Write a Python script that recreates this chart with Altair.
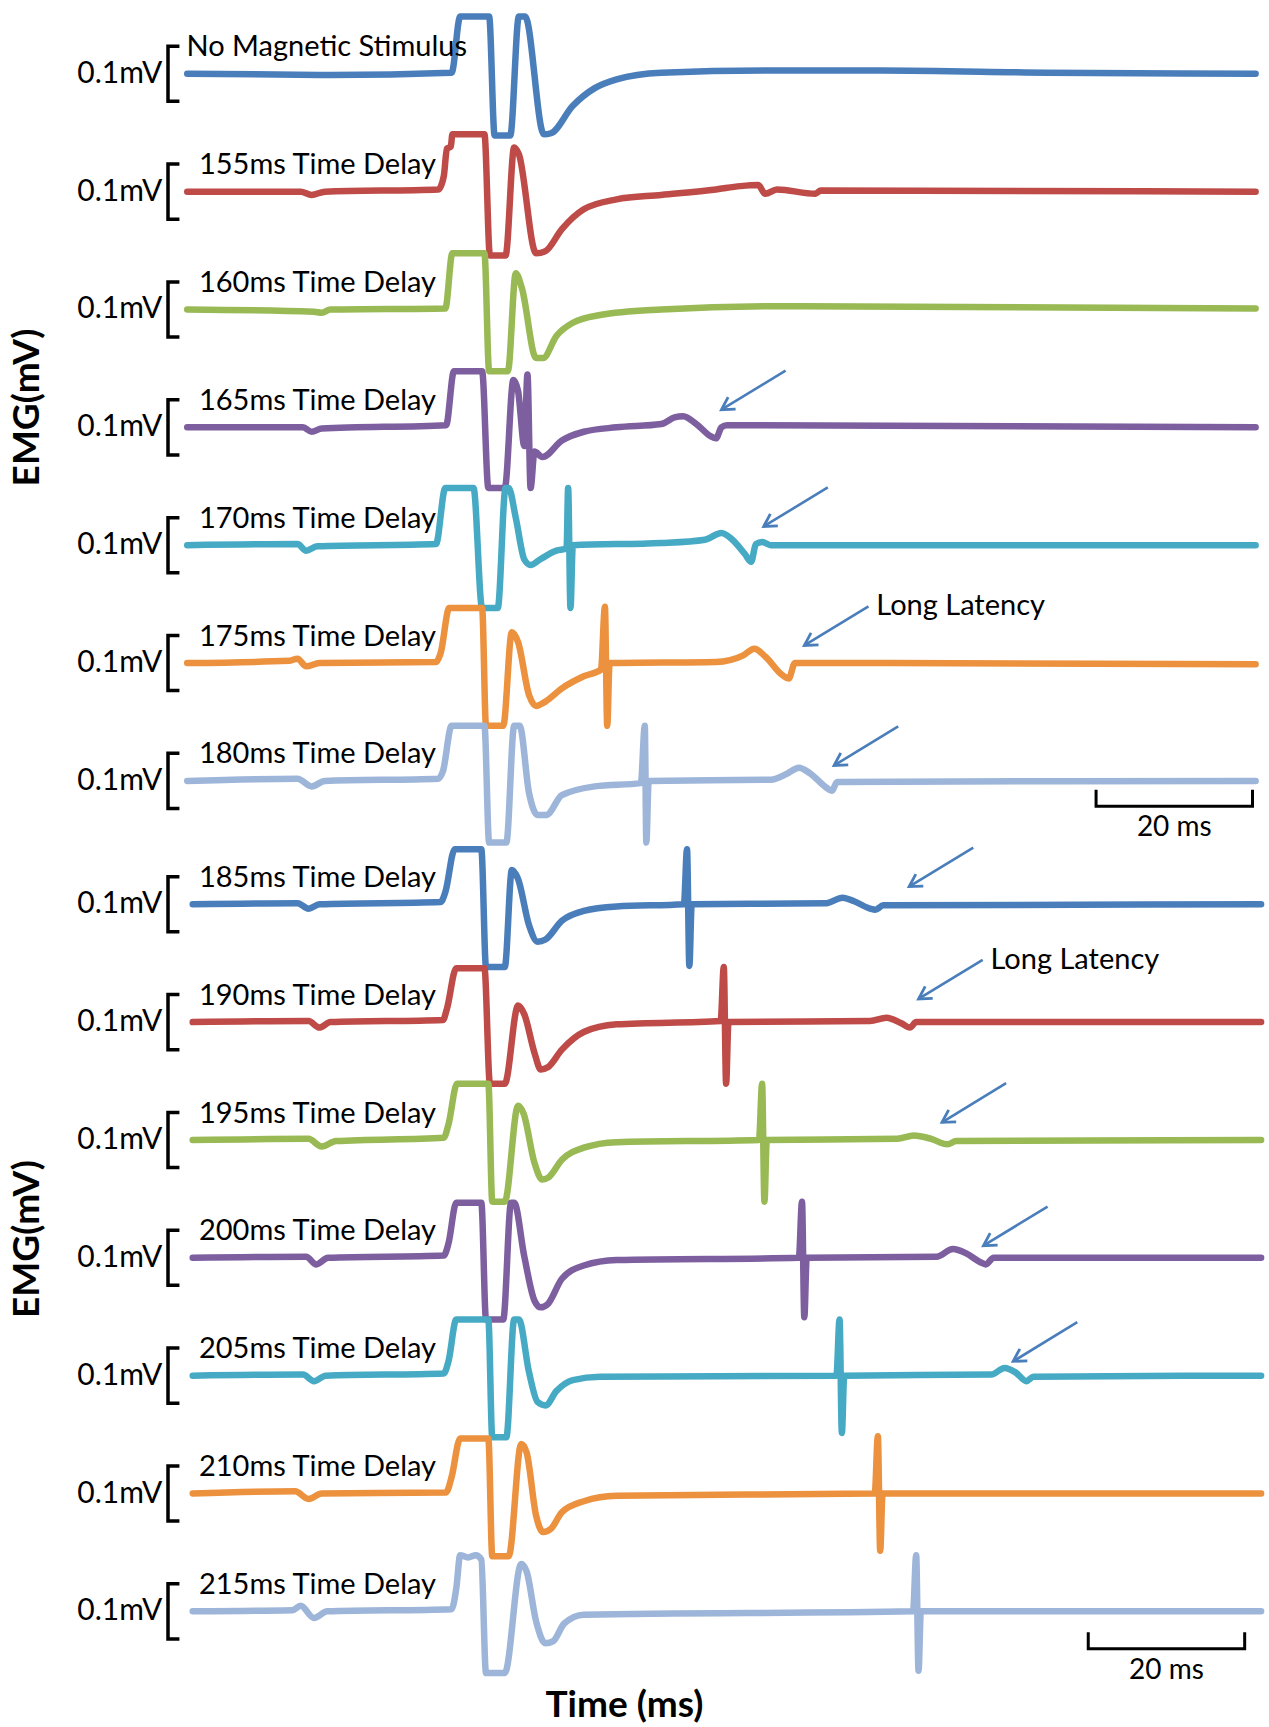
import altair as alt
import pandas as pd

LABELS = ["No Magnetic Stimulus", "155ms Time Delay", "160ms Time Delay", "165ms Time Delay",
          "170ms Time Delay", "175ms Time Delay", "180ms Time Delay", "185ms Time Delay",
          "190ms Time Delay", "195ms Time Delay", "200ms Time Delay", "205ms Time Delay",
          "210ms Time Delay", "215ms Time Delay"]
COLORS = ["#4A7EBB", "#BE4B48", "#98B954", "#7D5FA0", "#46AAC5", "#EC913E", "#9DB5D9",
          "#4A7EBB", "#BE4B48", "#98B954", "#7D5FA0", "#46AAC5", "#EC913E", "#9DB5D9"]

# time (ms) and amplitude (mV) key points per trace
T1 = [0, 18.3, 33.8, 34.9, 38.6, 39.3, 41.3, 42.4, 43.2, 45.6, 46.5, 49.3, 52.1, 54.9, 60.6, 74.6, 88.7, 109.9, 136.6]
A1 = [0, -0.002, 0.002, 0.104, 0.104, -0.112, -0.112, 0.104, 0.104, -0.11, -0.108, -0.058, -0.026, -0.01, 0.002, 0.006, 0.006, 0.002, 0]
T2 = [0, 14.5, 15.9, 17.6, 32.1, 32.8, 33.2, 33.7, 33.9, 38.0, 38.7, 40.7, 41.8, 42.4, 44.6, 45.8, 47.9, 50.7, 54.9, 60.6, 67.6, 70.7, 73.0, 73.9, 75.4, 80.3, 81.0, 136.6]
A2 = [0, 0, -0.006, 0, 0.004, 0.028, 0.078, 0.082, 0.104, 0.104, -0.116, -0.116, 0.08, 0.068, -0.112, -0.108, -0.068, -0.032, -0.014, -0.006, 0.004, 0.01, 0.012, -0.004, 0.004, -0.004, 0.002, 0]
T3 = [0, 16.2, 17.2, 18.3, 33.0, 33.9, 38.0, 38.6, 41.0, 42.0, 42.8, 44.6, 45.5, 47.2, 49.3, 52.8, 60.6, 74.6, 136.6]
A3 = [0, -0.004, -0.006, 0, 0.002, 0.102, 0.102, -0.112, -0.112, 0.066, 0.038, -0.088, -0.088, -0.048, -0.024, -0.01, 0, 0.006, 0.002]
T4 = [0, 14.8, 15.9, 17.2, 33.1, 34.1, 37.7, 38.5, 40.6, 41.7, 42.3, 43.1, 43.5, 43.9, 44.4, 45.4, 47.9, 50.7, 54.9, 60.6, 62.3, 63.4, 65.1, 66.9, 67.6, 68.3, 69.0, 136.6]
A4 = [0, 0, -0.008, -0.002, 0.004, 0.102, 0.102, -0.11, -0.11, 0.086, 0.066, -0.034, 0.096, -0.11, -0.044, -0.054, -0.024, -0.008, 0, 0.006, 0.018, 0.02, 0.006, -0.016, -0.02, 0, 0.004, 0]
T5 = [0, 14.1, 15.2, 16.6, 31.8, 33.0, 36.6, 37.7, 39.7, 40.7, 41.1, 42.0, 43.1, 43.9, 45.1, 47.2, 48.5, 48.7, 49.0, 49.3, 60.6, 66.2, 68.3, 69.7, 71.3, 72.1, 72.7, 73.5, 74.6, 136.6]
A5 = [0, 0.002, -0.01, -0.002, 0.002, 0.104, 0.104, -0.114, -0.114, 0.104, 0.104, 0.05, -0.026, -0.036, -0.026, -0.01, -0.006, 0.104, -0.114, 0, 0.004, 0.01, 0.022, 0.01, -0.016, -0.03, 0.002, 0.006, 0, 0]
T6 = [0, 13.0, 14.1, 15.2, 16.9, 31.8, 32.4, 33.5, 37.7, 38.2, 40.4, 41.5, 42.3, 43.7, 44.6, 45.8, 47.9, 50.7, 52.9, 53.4, 53.7, 54.0, 67.6, 71.1, 72.5, 73.9, 76.1, 76.9, 77.7, 136.6]
A6 = [0, 0.004, 0.008, -0.006, 0, 0.002, 0.018, 0.1, 0.1, -0.114, -0.114, 0.056, 0.038, -0.058, -0.078, -0.07, -0.046, -0.024, -0.012, 0.102, -0.114, 0, 0.002, 0.014, 0.026, 0.012, -0.022, -0.028, 0, -0.002]
T7 = [0, 14.1, 15.9, 17.6, 32.1, 32.7, 33.8, 38.0, 38.6, 40.8, 41.8, 42.5, 43.7, 44.8, 45.9, 47.9, 52.1, 58.0, 58.5, 58.7, 59.0, 74.6, 76.8, 78.2, 79.6, 81.7, 82.4, 83.1, 136.6]
A7 = [0, 0.004, -0.01, 0, 0.004, 0.018, 0.1, 0.1, -0.112, -0.112, 0.1, 0.1, -0.022, -0.062, -0.062, -0.026, -0.01, -0.004, 0.1, -0.112, 0, 0.002, 0.014, 0.024, 0.014, -0.012, -0.018, -0.002, 0]
T8 = [0.7, 14.1, 15.5, 16.9, 32.4, 33.0, 34.2, 37.6, 38.2, 40.6, 41.5, 42.3, 43.7, 44.8, 45.8, 47.9, 50.7, 54.9, 63.5, 63.9, 64.2, 64.5, 81.7, 83.8, 85.2, 87.3, 88.0, 89.0, 137.3]
A8 = [0, 0.002, -0.008, 0, 0.004, 0.022, 0.1, 0.1, -0.114, -0.114, 0.062, 0.046, -0.038, -0.068, -0.064, -0.03, -0.012, -0.004, 0, 0.1, -0.112, 0, 0.002, 0.012, 0.006, -0.008, -0.01, -0.002, 0]
T9 = [0.7, 15.5, 16.9, 18.3, 32.7, 33.2, 34.4, 38.0, 38.7, 40.6, 42.3, 43.1, 44.4, 45.2, 46.1, 47.9, 50.7, 54.9, 68.2, 68.6, 68.9, 69.2, 87.3, 89.4, 91.3, 92.4, 93.2, 137.3]
A9 = [0, 0.002, -0.01, 0, 0.004, 0.024, 0.098, 0.098, -0.112, -0.112, 0.03, 0.014, -0.056, -0.086, -0.082, -0.05, -0.018, -0.004, 0.002, 0.1, -0.112, 0, 0.002, 0.008, -0.002, -0.01, 0, 0]
T10 = [0.7, 15.5, 17.2, 19.0, 32.8, 33.4, 34.5, 38.5, 39.0, 40.6, 42.3, 43.0, 44.4, 45.4, 46.2, 47.9, 50.7, 54.9, 73.1, 73.5, 73.8, 74.1, 90.8, 92.9, 95.1, 97.2, 98.3, 137.3]
A10 = [0, 0.002, -0.012, -0.002, 0.004, 0.028, 0.102, 0.102, -0.112, -0.112, 0.062, 0.048, -0.042, -0.072, -0.068, -0.036, -0.014, -0.004, 0, 0.102, -0.112, 0, 0.002, 0.008, 0.002, -0.008, -0.002, 0]
T11 = [0.7, 15.2, 16.5, 18.0, 32.8, 33.4, 34.4, 37.6, 38.2, 40.4, 41.4, 41.8, 43.1, 44.4, 45.2, 46.1, 47.9, 50.7, 54.9, 78.2, 78.6, 78.9, 79.2, 95.8, 97.9, 99.6, 101.4, 102.1, 103.1, 137.3]
A11 = [0, 0.002, -0.012, 0, 0.004, 0.026, 0.1, 0.1, -0.112, -0.112, 0.1, 0.1, 0.002, -0.078, -0.09, -0.084, -0.038, -0.014, -0.004, 0, 0.102, -0.108, 0, 0.002, 0.016, 0.008, -0.008, -0.012, 0, 0]
T12 = [0.7, 14.8, 16.2, 17.7, 32.8, 33.4, 34.4, 38.5, 39.0, 40.8, 41.8, 42.4, 43.7, 44.8, 45.8, 47.2, 49.3, 52.8, 83.0, 83.4, 83.7, 84.0, 102.8, 104.5, 105.9, 107.3, 108.2, 137.3]
A12 = [0, 0.002, -0.01, 0, 0.004, 0.026, 0.102, 0.102, -0.112, -0.112, 0.102, 0.102, 0.006, -0.048, -0.054, -0.028, -0.008, -0.002, 0, 0.102, -0.104, 0, 0.002, 0.014, 0.006, -0.01, -0.002, 0]
T13 = [0.7, 13.8, 15.5, 17.2, 33.1, 33.8, 34.9, 38.5, 39.0, 41.1, 42.7, 43.4, 44.6, 45.5, 46.5, 47.9, 50.7, 54.9, 87.9, 88.3, 88.6, 88.9, 137.3]
A13 = [0, 0.004, -0.01, 0, 0.002, 0.03, 0.1, 0.1, -0.114, -0.114, 0.09, 0.074, -0.04, -0.07, -0.064, -0.034, -0.014, -0.004, 0, 0.104, -0.104, 0, 0]
T14 = [0.7, 13.4, 14.5, 16.2, 17.9, 33.8, 34.4, 34.9, 35.9, 36.9, 37.6, 38.2, 40.6, 42.7, 43.4, 44.6, 45.8, 46.8, 48.2, 50.7, 92.8, 93.2, 93.5, 93.8, 137.3]
A14 = [0, 0.002, 0.01, -0.012, 0, 0.004, 0.042, 0.102, 0.098, 0.102, 0.094, -0.112, -0.112, 0.086, 0.072, -0.018, -0.058, -0.054, -0.022, -0.006, 0, 0.102, -0.108, 0, 0]

TIMES = [T1, T2, T3, T4, T5, T6, T7, T8, T9, T10, T11, T12, T13, T14]
AMPS = [A1, A2, A3, A4, A5, A6, A7, A8, A9, A10, A11, A12, A13, A14]

# arrows (long-latency response markers)
ARROW_TRACE = [3, 4, 5, 6, 7, 8, 9, 10, 11]
ARROW_TIP_T = [68.3, 73.7, 78.9, 82.7, 92.3, 93.5, 96.5, 101.8, 105.6]
ARROW_TIP_DV = [0.032, 0.034, 0.032, 0.028, 0.032, 0.042, 0.032, 0.022, 0.026]
LONG_LATENCY_ARROWS = [2, 5]

SCALEBAR_TRACE = [6, 13]
SCALEBAR_T0 = [116.2, 115.2]
SCALEBAR_DV = [-0.016, -0.038]

# layout constants (vertical stacking of traces, mV)
BASE0, STEP, GAP = 0.134, 0.214, 0.01


def base(k):
    return -(BASE0 + STEP * k + (GAP if k >= 7 else 0.0))


rows = []
for k, (ts, vs) in enumerate(zip(TIMES, AMPS)):
    for i, (t, a) in enumerate(zip(ts, vs)):
        rows.append(dict(trace=LABELS[k], t=t, v=base(k) + a, i=i))
traces = pd.DataFrame(rows)

lab = pd.DataFrame([dict(trace=LABELS[k], t=(-0.1 if k == 0 else 1.5), v=base(k) + 0.048)
                    for k in range(len(LABELS))])
mv = pd.DataFrame([dict(t=-3.2, v=base(k), txt="0.1mV") for k in range(len(LABELS))])

br_rows = []
for k in range(len(LABELS)):
    b = base(k)
    for j, (t, dv) in enumerate([(-1.0, 0.05), (-2.46, 0.05), (-2.46, -0.05), (-1.0, -0.05)]):
        br_rows.append(dict(g=k, j=j, t=t, v=b + dv))
brackets = pd.DataFrame(br_rows)

ar_rows = []
for n, (k, tt, dv) in enumerate(zip(ARROW_TRACE, ARROW_TIP_T, ARROW_TIP_DV)):
    tv = base(k) + dv
    ar_rows.append(dict(n=n, t=tt, v=tv, t2=tt + 8.2, v2=tv + 0.071))
arrows = pd.DataFrame(ar_rows)
ll = arrows.iloc[LONG_LATENCY_ARROWS].copy()
ll["tx"] = ll["t2"] + 1.0
ll["txt"] = "Long Latency"

sb_rows = []
sb_txt = []
for g, (k, t0, dv) in enumerate(zip(SCALEBAR_TRACE, SCALEBAR_T0, SCALEBAR_DV)):
    b = base(k) + dv
    for j, (t, d) in enumerate([(t0, 0.0), (t0, -0.03), (t0 + 20, -0.03), (t0 + 20, 0.0)]):
        sb_rows.append(dict(g=g, j=j, t=t, v=b + d))
    sb_txt.append(dict(t=t0 + 10, v=b - 0.07, txt="20 ms"))
sbars = pd.DataFrame(sb_rows)
sbtext = pd.DataFrame(sb_txt)

titles_y = pd.DataFrame([dict(t=-20.4, v=-0.74, txt="EMG(mV)"), dict(t=-20.4, v=-2.25, txt="EMG(mV)")])
title_x = pd.DataFrame([dict(t=55.9, v=-3.098, txt="Time (ms)")])

XS = alt.Scale(domain=[-23.94, 138.31], nice=False, zero=False)
YS = alt.Scale(domain=[-3.136, 0], nice=False, zero=False)


def X(f="t"):
    return alt.X(f"{f}:Q", scale=XS, axis=None)


def Y(f="v"):
    return alt.Y(f"{f}:Q", scale=YS, axis=None)


FONT = "Lato"
ARROW_COLOR = "#4A7EBB"

lines = alt.Chart(traces).mark_line(strokeWidth=6.5, strokeJoin="round", strokeCap="round",
                                    interpolate="monotone").encode(
    x=X(), y=Y(),
    color=alt.Color("trace:N", scale=alt.Scale(domain=LABELS, range=COLORS), legend=None),
    order="i:Q")

labels = alt.Chart(lab).mark_text(align="left", baseline="middle", font=FONT, fontSize=29,
                                   color="black").encode(x=X(), y=Y(), text="trace:N")

mvtext = alt.Chart(mv).mark_text(align="right", baseline="middle", font=FONT, fontSize=30,
                                  color="black").encode(x=X(), y=Y(), text="txt:N")

brack = alt.Chart(brackets).mark_line(color="black", strokeWidth=3.5).encode(
    x=X(), y=Y(), detail="g:N", order="j:Q")

shafts = alt.Chart(arrows).mark_rule(color=ARROW_COLOR, strokeWidth=2.6).encode(
    x=X(), y=Y(), x2="t2:Q", y2="v2:Q")

heads = alt.Chart(arrows).mark_point(shape="M -0.5 0.87 L 0 0 L 0.5 0.87", filled=False,
                                     size=800, strokeWidth=2.8, color=ARROW_COLOR, angle=238,
                                     opacity=1).encode(x=X(), y=Y())

lltext = alt.Chart(ll).mark_text(align="left", baseline="middle", font=FONT, fontSize=29,
                                  color="black").encode(x=X("tx"), y=Y("v2"), text="txt:N")

sb = alt.Chart(sbars).mark_line(color="black", strokeWidth=3).encode(
    x=X(), y=Y(), detail="g:N", order="j:Q")

sbt = alt.Chart(sbtext).mark_text(align="center", baseline="middle", font=FONT, fontSize=28,
                                   color="black").encode(x=X(), y=Y(), text="txt:N")

ty = alt.Chart(titles_y).mark_text(align="center", baseline="middle", font=FONT, fontSize=37,
                                    fontWeight="bold", angle=270, color="black").encode(
    x=X(), y=Y(), text="txt:N")

tx = alt.Chart(title_x).mark_text(align="center", baseline="middle", font=FONT, fontSize=37,
                                   fontWeight="bold", color="black").encode(
    x=X(), y=Y(), text="txt:N")

chart = alt.layer(lines, brack, mvtext, labels, shafts, heads, lltext, sb, sbt, ty, tx).properties(
    width=1269, height=1727, autosize="none", padding=0, background="white"
).configure_view(stroke=None)

chart.save("out.html", embed_options={"renderer": "svg", "actions": False})
